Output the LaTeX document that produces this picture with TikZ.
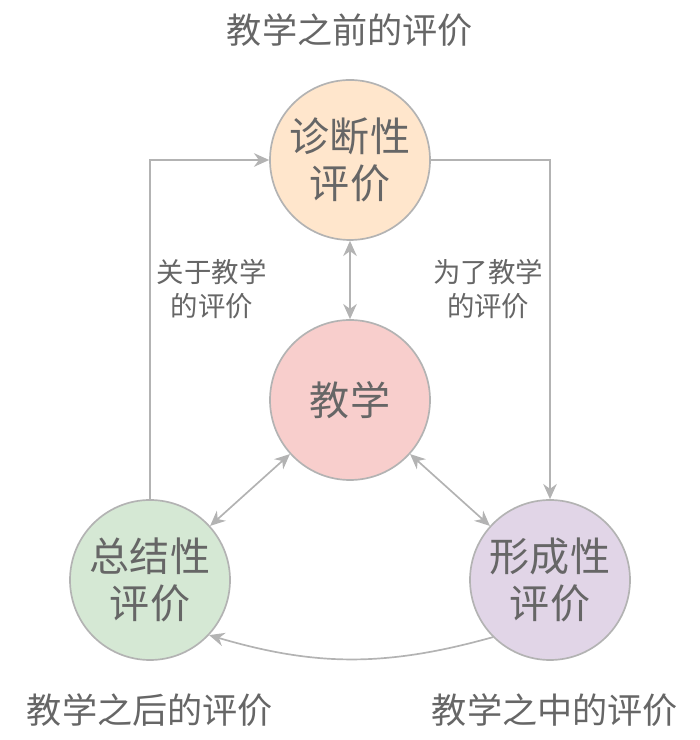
\documentclass[tikz,border=0pt]{standalone}
\usepackage{fontspec}
\setmainfont{Noto Sans CJK SC}
\usepackage{tikz}
\usetikzlibrary{arrows.meta,positioning}
\definecolor{evgray}{HTML}{B3B3B3}
\definecolor{evtext}{HTML}{666666}
\definecolor{evorange}{HTML}{FFE6CC}
\definecolor{evred}{HTML}{F8CECC}
\definecolor{evgreen}{HTML}{D5E8D4}
\definecolor{evpurple}{HTML}{E1D5E7}
\begin{document}
\begin{tikzpicture}[
    x=1cm,
    y=1cm,
    text=evtext,
    phase/.style={circle, draw=evgray, line width=1.2pt, minimum size=4cm, inner sep=0pt, align=center,
      font=\fontsize{28.5}{34}\selectfont},
    caption/.style={font=\fontsize{25}{30}\selectfont},
    note/.style={font=\fontsize{19.5}{24}\selectfont, align=center},
    link/.style={-{Stealth[length=3.8mm,width=3.4mm]}, line width=1.2pt, draw=evgray},
    dlink/.style={{Stealth[length=3.8mm,width=3.4mm]}-{Stealth[length=3.8mm,width=3.4mm]}, line width=1.2pt, draw=evgray}
  ]
    \useasboundingbox (0,0) rectangle (17.5,18.5);

    \node[phase, fill=evorange] (diag) at (8.75,14.5) {诊断性\\评价};
    \node[phase, fill=evred] (teach) at (8.75,8.5) {教学};
    \node[phase, fill=evgreen] (summ) at (3.75,4) {总结性\\评价};
    \node[phase, fill=evpurple] (form) at (13.75,4) {形成性\\评价};

    \node[caption] (before) at (8.75,17.75) {教学之前的评价};
    \node[caption] (after) at (3.75,0.75) {教学之后的评价};
    \node[caption] (during) at (13.875,0.75) {教学之中的评价};

    \draw[link] (summ.north) |- node[note, pos=0.31, right=1pt] (about) {关于教学\\的评价} (diag.west);
    \draw[link] (diag.east) -| node[note, pos=0.69, left=1pt] (for) {为了教学\\的评价} (form.north);

    \draw[dlink] (diag) -- (teach);
    \draw[dlink] (teach) -- (summ);
    \draw[dlink] (teach) -- (form);
    \draw[link] (form.225) to[bend left=16] (summ.317);
  \end{tikzpicture}
\end{document}
